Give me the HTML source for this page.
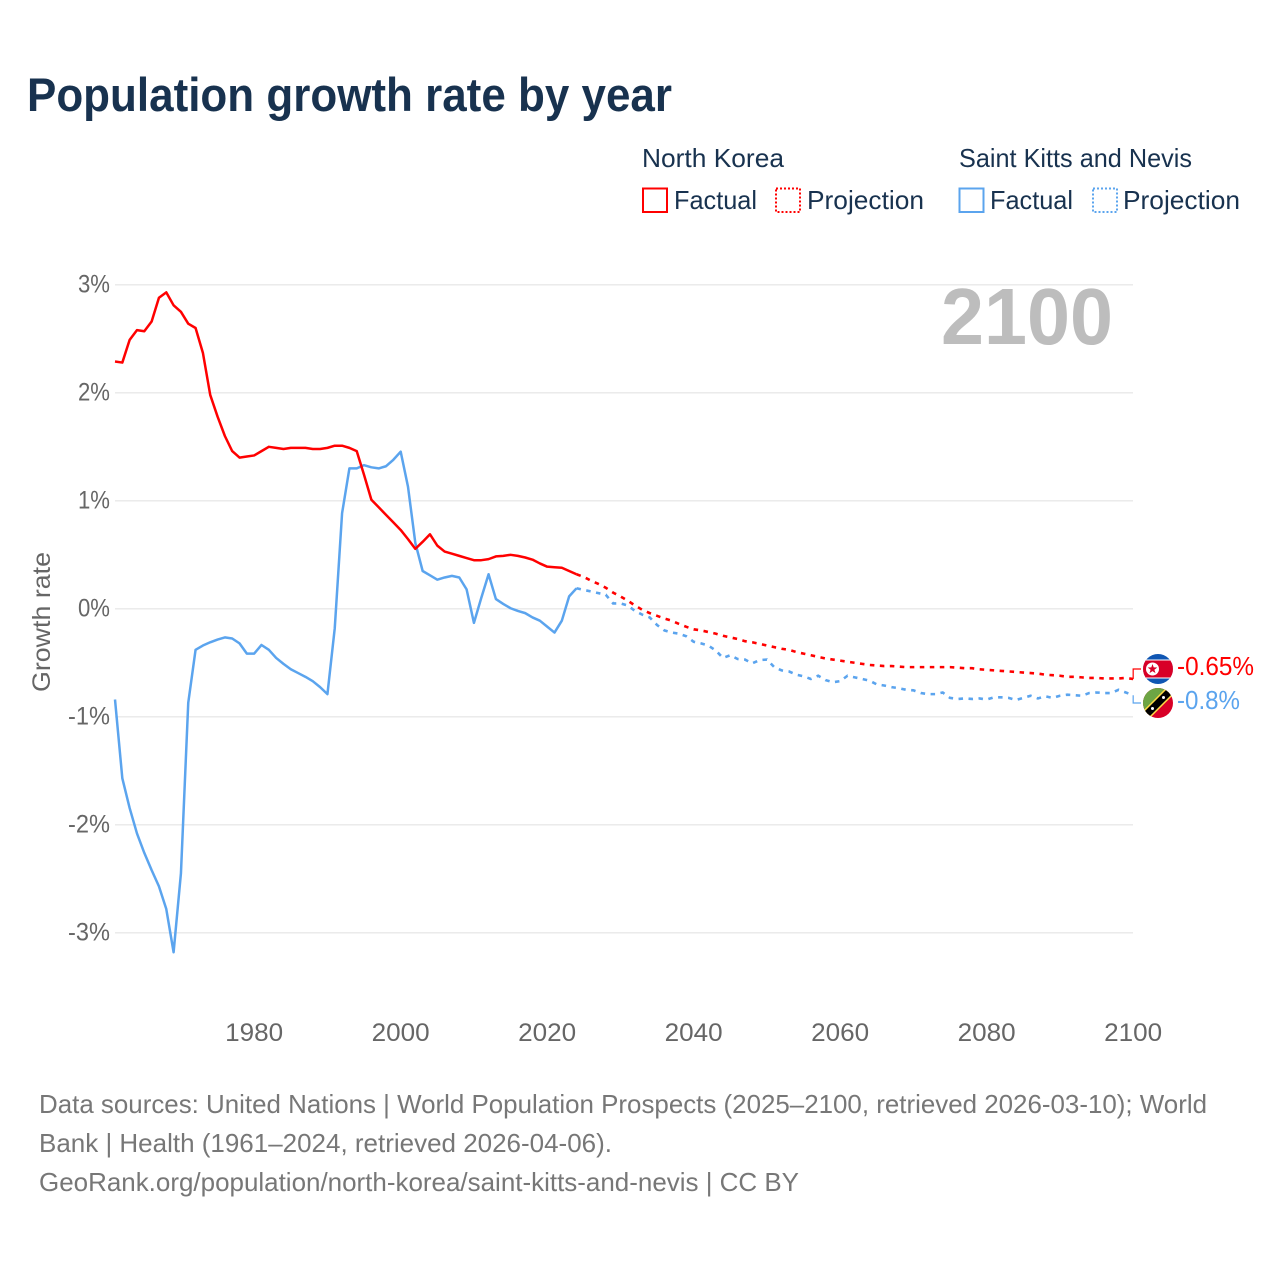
<!DOCTYPE html>
<html lang="en">
<head>
<meta charset="utf-8">
<title>Population growth rate by year</title>
<style>
html,body{margin:0;padding:0;background:#fff;}
svg{display:block;}
text{font-family:"Liberation Sans",sans-serif;}
</style>
</head>
<body>
<svg id="chart" xmlns="http://www.w3.org/2000/svg" width="1280" height="1280" viewBox="0 0 1280 1280">
  <rect width="1280" height="1280" fill="#fff"/>
  <text x="27" y="111" font-size="47" font-weight="700" fill="#18324f" textLength="645" lengthAdjust="spacingAndGlyphs">Population growth rate by year</text>

  <g font-size="26" fill="#18324f">
    <text x="642" y="167" textLength="142" lengthAdjust="spacingAndGlyphs">North Korea</text>
    <text x="959" y="167" textLength="233" lengthAdjust="spacingAndGlyphs">Saint Kitts and Nevis</text>
    <rect x="643" y="188.500" width="24" height="23.500" fill="none" stroke="#ff0000" stroke-width="2"/>
    <text x="674" y="209" textLength="83" lengthAdjust="spacingAndGlyphs">Factual</text>
    <rect x="776" y="188.500" width="24" height="23.500" fill="none" stroke="#ff0000" stroke-width="2" stroke-dasharray="2 2"/>
    <text x="807" y="209" textLength="117" lengthAdjust="spacingAndGlyphs">Projection</text>
    <rect x="959.500" y="188.500" width="24" height="23.500" fill="none" stroke="#5ba4ee" stroke-width="2"/>
    <text x="990" y="209" textLength="83" lengthAdjust="spacingAndGlyphs">Factual</text>
    <rect x="1093" y="188.500" width="24" height="23.500" fill="none" stroke="#5ba4ee" stroke-width="2" stroke-dasharray="2 2"/>
    <text x="1123" y="209" textLength="117" lengthAdjust="spacingAndGlyphs">Projection</text>
  </g>

  <g id="grid"></g>
  <g id="yticks"></g>
  <g id="xticks"></g>
  <text transform="translate(50,622) rotate(-90)" text-anchor="middle" font-size="25" fill="#666" textLength="140" lengthAdjust="spacingAndGlyphs">Growth rate</text>
  <text x="941" y="344" font-size="80" font-weight="700" fill="#bdbdbd" textLength="172" lengthAdjust="spacingAndGlyphs">2100</text>

  <g id="series"></g>
  <g id="end-labels"></g>

  <defs>
    <clipPath id="flag-clip-a"><circle cx="1158" cy="669" r="15"/></clipPath>
    <clipPath id="flag-clip-b"><circle cx="1158" cy="703" r="15"/></clipPath>
  </defs>
  <g clip-path="url(#flag-clip-a)">
    <rect x="1143" y="654" width="30" height="30" fill="#0f56b3"/>
    <rect x="1143" y="659.500" width="30" height="19" fill="#fff"/>
    <rect x="1143" y="660.500" width="30" height="17" fill="#d80027"/>
    <circle cx="1152.500" cy="669" r="6.500" fill="#fff"/>
    <polygon points="1152.500,664 1153.700,667.400 1157.300,667.500 1154.400,669.700 1155.500,673.100 1152.500,671.100 1149.500,673.100 1150.600,669.700 1147.700,667.500 1151.300,667.400" fill="#d80027"/>
  </g>
  <g clip-path="url(#flag-clip-b)">
    <rect x="1143" y="688" width="30" height="30" fill="#d80027"/>
    <polygon points="1143,688 1173,688 1143,718" fill="#6da544"/>
    <line x1="1143" y1="718" x2="1173" y2="688" stroke="#ffda44" stroke-width="10"/>
    <line x1="1143" y1="718" x2="1173" y2="688" stroke="#000" stroke-width="7"/>
    <circle cx="1152.500" cy="708.500" r="1.500" fill="#fff"/>
    <circle cx="1163.500" cy="697.500" r="1.500" fill="#fff"/>
  </g>

  <g font-size="26" fill="#777">
    <text x="39" y="1113" textLength="1168" lengthAdjust="spacingAndGlyphs">Data sources: United Nations | World Population Prospects (2025–2100, retrieved 2026-03-10); World</text>
    <text x="39" y="1152" textLength="573" lengthAdjust="spacingAndGlyphs">Bank | Health (1961–2024, retrieved 2026-04-06).</text>
    <text x="39" y="1191" textLength="760" lengthAdjust="spacingAndGlyphs">GeoRank.org/population/north-korea/saint-kitts-and-nevis | CC BY</text>
  </g>
</svg>

<script>
// Chart data (percent growth per year)
const factualStartYear = 1961;
const projectionStartYear = 2025;
const yTickValues = [3, 2, 1, 0, -1, -2, -3];
const yTickLabels = ["3%", "2%", "1%", "0%", "-1%", "-2%", "-3%"];
const xTickValues = [1980, 2000, 2020, 2040, 2060, 2080, 2100];
const xTickLabels = ["1980", "2000", "2020", "2040", "2060", "2080", "2100"];
const nkFactual = [
  2.29, 2.28, 2.49, 2.58, 2.57, 2.66, 2.88, 2.93, 2.81, 2.75,
  2.64, 2.60, 2.37, 1.98, 1.78, 1.60, 1.46, 1.40, 1.41, 1.42,
  1.46, 1.50, 1.49, 1.48, 1.49, 1.49, 1.49, 1.48, 1.48, 1.49,
  1.51, 1.51, 1.49, 1.46, 1.24, 1.01, 0.94, 0.87, 0.80, 0.73,
  0.645, 0.555, 0.62, 0.69, 0.585, 0.53, 0.51, 0.49, 0.47, 0.45,
  0.45, 0.46, 0.485, 0.49, 0.50, 0.49, 0.475, 0.455, 0.42, 0.39,
  0.385, 0.38, 0.35, 0.32
];
const nkProjection = [
  0.295, 0.26, 0.23, 0.195, 0.15, 0.115, 0.075, 0.03, -0.01, -0.04,
  -0.065, -0.09, -0.11, -0.14, -0.167, -0.19, -0.20, -0.215, -0.23, -0.25,
  -0.265, -0.28, -0.30, -0.31, -0.325, -0.34, -0.355, -0.37, -0.38, -0.40,
  -0.415, -0.43, -0.445, -0.46, -0.47, -0.48, -0.49, -0.50, -0.51, -0.52,
  -0.525, -0.53, -0.53, -0.535, -0.54, -0.54, -0.54, -0.54, -0.54, -0.54,
  -0.54, -0.545, -0.55, -0.55, -0.56, -0.565, -0.57, -0.575, -0.58, -0.585,
  -0.59, -0.595, -0.60, -0.61, -0.615, -0.62, -0.63, -0.63, -0.635, -0.64,
  -0.64, -0.645, -0.645, -0.645, -0.64, -0.65
];
const sknFactual = [
  -0.84, -1.57, -1.845, -2.08, -2.26, -2.42, -2.57, -2.78, -3.18, -2.45,
  -0.87, -0.38, -0.34, -0.31, -0.285, -0.265, -0.275, -0.32, -0.415, -0.415,
  -0.335, -0.38, -0.455, -0.51, -0.56, -0.595, -0.63, -0.67, -0.725, -0.79,
  -0.18, 0.885, 1.30, 1.30, 1.33, 1.31, 1.30, 1.32, 1.38, 1.455,
  1.13, 0.61, 0.35, 0.31, 0.27, 0.29, 0.305, 0.29, 0.18, -0.13,
  0.10, 0.32, 0.09, 0.045, 0.005, -0.02, -0.04, -0.08, -0.11, -0.165,
  -0.22, -0.11, 0.115, 0.19
];
const sknProjection = [
  0.175, 0.16, 0.145, 0.13, 0.05, 0.05, 0.03, -0.02, -0.055, -0.08,
  -0.15, -0.20, -0.22, -0.23, -0.255, -0.305, -0.32, -0.34, -0.385, -0.455,
  -0.43, -0.465, -0.47, -0.505, -0.475, -0.47, -0.54, -0.57, -0.58, -0.61,
  -0.625, -0.65, -0.62, -0.66, -0.68, -0.67, -0.62, -0.635, -0.65, -0.665,
  -0.70, -0.71, -0.725, -0.735, -0.75, -0.755, -0.78, -0.79, -0.79, -0.775,
  -0.825, -0.835, -0.83, -0.835, -0.83, -0.84, -0.82, -0.82, -0.825, -0.845,
  -0.825, -0.805, -0.83, -0.81, -0.825, -0.805, -0.795, -0.80, -0.805, -0.78,
  -0.775, -0.78, -0.78, -0.75, -0.775, -0.80
];
const endLabels = ["-0.65%", "-0.8%"];

const NS = "http://www.w3.org/2000/svg";
const RED = "#ff0000";
const BLUE = "#5ba4ee";
const xScale = function (year) { return 115 + (year - 1961) * 7.325; };
const yScale = function (value) { return 608.8 - value * 108; };

function make(tag, attrs, parent, content) {
  const el = document.createElementNS(NS, tag);
  Object.keys(attrs).forEach(function (k) { el.setAttribute(k, attrs[k]); });
  if (content !== undefined) el.textContent = content;
  parent.appendChild(el);
  return el;
}

function linePath(values, startYear, prefixYear, prefixValue) {
  let d = "";
  if (prefixYear !== undefined) d = "M" + xScale(prefixYear) + " " + yScale(prefixValue);
  values.forEach(function (v, i) {
    const cmd = (d === "") ? "M" : "L";
    d += cmd + xScale(startYear + i).toFixed(2) + " " + yScale(v).toFixed(2);
  });
  return d;
}

const gridGroup = document.getElementById("grid");
const yTickGroup = document.getElementById("yticks");
yTickValues.forEach(function (v, i) {
  const line = make("line", { x1: 115, x2: 1133, y1: yScale(v), y2: yScale(v), stroke: "#e8e8e8", "stroke-width": 1.3 }, gridGroup);
  
  
  const label = yTickLabels[i];
  const t = make("text", { x: 110, y: yScale(v) + 7.5, "text-anchor": "end", "font-size": 25, fill: "#666",
    textLength: label.charAt(0) === "-" ? 42 : 32, lengthAdjust: "spacingAndGlyphs" }, yTickGroup, label);
  
  
});

const xTickGroup = document.getElementById("xticks");
xTickValues.forEach(function (year, i) {
  const t = make("text", { x: xScale(year), y: 1041, "text-anchor": "middle", "font-size": 25, fill: "#666",
    textLength: 58, lengthAdjust: "spacingAndGlyphs" }, xTickGroup, xTickLabels[i]);
  
  
});

const seriesGroup = document.getElementById("series");
const lineSkn = make("path", { d: linePath(sknFactual, factualStartYear), fill: "none", stroke: BLUE, "stroke-width": 2.5, "stroke-linejoin": "round" }, seriesGroup);


const lineNk = make("path", { d: linePath(nkFactual, factualStartYear), fill: "none", stroke: RED, "stroke-width": 2.5, "stroke-linejoin": "round" }, seriesGroup);



const lastFactualYear = factualStartYear + nkFactual.length - 1;
const lineSknP = make("path", { d: linePath(sknProjection, projectionStartYear, lastFactualYear, sknFactual[sknFactual.length - 1]), fill: "none", stroke: BLUE, "stroke-width": 2.6, "stroke-dasharray": "4.5 5.5" }, seriesGroup);


const lineNkP = make("path", { d: linePath(nkProjection, projectionStartYear, lastFactualYear, nkFactual[nkFactual.length - 1]), fill: "none", stroke: RED, "stroke-width": 2.6, "stroke-dasharray": "4.5 5.5" }, seriesGroup);



const endGroup = document.getElementById("end-labels");
const lastYear = projectionStartYear + nkProjection.length - 1;
const connectorNk = make("path", { d: "M" + xScale(lastYear) + " " + yScale(nkProjection[nkProjection.length - 1]) + "V669H1141", fill: "none", stroke: RED, "stroke-width": 1.2 }, endGroup);


const connectorSkn = make("path", { d: "M" + xScale(lastYear) + " " + yScale(sknProjection[sknProjection.length - 1]) + "V703H1141", fill: "none", stroke: BLUE, "stroke-width": 1.2 }, endGroup);


const valueNk = make("text", { x: 1177, y: 675, "font-size": 26, fill: RED, textLength: 77, lengthAdjust: "spacingAndGlyphs" }, endGroup, endLabels[0]);


const valueSkn = make("text", { x: 1177, y: 709, "font-size": 26, fill: BLUE, textLength: 63, lengthAdjust: "spacingAndGlyphs" }, endGroup, endLabels[1]);


</script>
</body>
</html>
